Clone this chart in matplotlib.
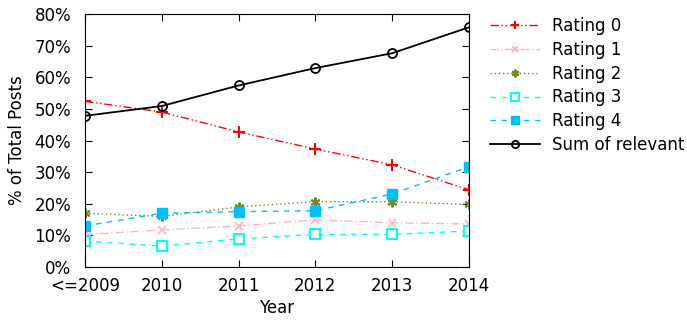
import matplotlib
matplotlib.use('Agg')
import matplotlib.pyplot as plt

# values (percent of total posts)
years = ['<=2009', '2010', '2011', '2012', '2013', '2014']
rating0 = [52.4, 49.0, 42.7, 37.3, 32.3, 24.4]
rating1 = [10.3, 11.7, 13.0, 14.9, 14.0, 13.6]
rating2 = [17.0, 16.0, 19.0, 20.7, 20.6, 19.8]
rating3 = [8.2, 6.6, 8.9, 10.3, 10.3, 11.4]
rating4 = [13.0, 17.0, 17.5, 17.8, 23.1, 31.7]
relevant = [47.8, 50.9, 57.4, 62.9, 67.6, 75.8]

plt.rcParams['font.family'] = ['DejaVu Sans']
plt.rcParams['font.size'] = 12

fig = plt.figure(figsize=(6.87, 3.24), dpi=100)
ax = fig.add_axes([85 / 687, 1 - 267 / 324, 384 / 687, 253 / 324])
x = list(range(len(years)))

ax.plot(x, rating0, color='red', linestyle=(0, (6, 2, 1, 2, 1, 2)), lw=1,
        marker='+', ms=8, mew=1.5, label='Rating 0')
ax.plot(x, rating1, color='#ffb6c1', linestyle=(0, (6, 2, 1, 2)), lw=1,
        marker='x', ms=6, mew=1.3, label='Rating 1')
ax.plot(x, rating2, color='#6b8e23', linestyle=(0, (1, 2)), lw=1,
        marker=(6, 2, 0), ms=7, mew=1.5, label='Rating 2')
ax.plot(x, rating3, color='cyan', linestyle=(0, (4, 4)), lw=1,
        marker='s', ms=6.5, mfc='white', mew=1.5, label='Rating 3')
ax.plot(x, rating4, color='#00bfff', linestyle=(0, (4, 4)), lw=1,
        marker='s', ms=6.5, label='Rating 4')
ax.plot(x, relevant, color='black', linestyle='-', lw=1.3,
        marker='o', ms=6.5, mfc='none', mew=1.3, label='Sum of relevant')

ax.set_xlim(0, 5)
ax.set_ylim(0, 80)
ax.set_xticks(x)
ax.set_xticklabels(years)
ax.set_yticks(range(0, 81, 10))
ax.set_yticklabels([f'{v}%' for v in range(0, 81, 10)])
ax.tick_params(direction='in', top=True, right=True, length=5)
ax.tick_params(axis='x', pad=7)
ax.tick_params(axis='y', pad=10)
ax.set_xlabel('Year', labelpad=3)
ax.set_ylabel('% of Total Posts', labelpad=6)

ax.legend(loc='upper left', bbox_to_anchor=(1.016, 1.048), frameon=False,
          handlelength=3.0, labelspacing=0.35, handletextpad=0.7,
          markerscale=0.8)

fig.savefig('out.png', dpi=100)
